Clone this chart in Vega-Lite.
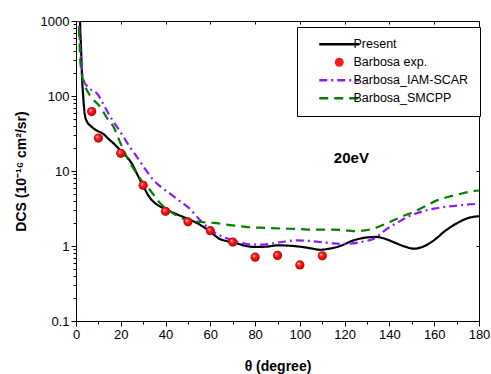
{
  "$schema": "https://vega.github.io/schema/vega-lite/v6.json",
  "width": 403,
  "height": 300,
  "autosize": "none",
  "padding": {"left": 76, "top": 21, "right": 12, "bottom": 53},
  "background": "white",
  "config": {
    "font": "Liberation Sans",
    "view": {"stroke": "black", "strokeWidth": 1},
    "axis": {"grid": false, "domainColor": "black", "tickColor": "black", "labelColor": "black", "titleColor": "black", "labelFont": "Liberation Sans", "titleFont": "Liberation Sans", "labelFontSize": 13, "titleFontSize": 14, "titleFontWeight": "bold"}
  },
  "resolve": {"axis": {"x": "independent", "y": "independent"}},
  "datasets": {
    "curves": [
      {"series": "Present", "theta": 1.6, "dcs": 2000},
      {"series": "Present", "theta": 1.8, "dcs": 1000},
      {"series": "Present", "theta": 2.3, "dcs": 400},
      {"series": "Present", "theta": 2.7, "dcs": 180},
      {"series": "Present", "theta": 3.2, "dcs": 100},
      {"series": "Present", "theta": 4, "dcs": 55},
      {"series": "Present", "theta": 5, "dcs": 45},
      {"series": "Present", "theta": 6.5, "dcs": 40},
      {"series": "Present", "theta": 9, "dcs": 35},
      {"series": "Present", "theta": 12, "dcs": 31.5},
      {"series": "Present", "theta": 15, "dcs": 26},
      {"series": "Present", "theta": 17, "dcs": 23},
      {"series": "Present", "theta": 20, "dcs": 18.5},
      {"series": "Present", "theta": 23, "dcs": 15},
      {"series": "Present", "theta": 25, "dcs": 12.5},
      {"series": "Present", "theta": 27, "dcs": 9.5},
      {"series": "Present", "theta": 30, "dcs": 6.3},
      {"series": "Present", "theta": 33, "dcs": 4.4},
      {"series": "Present", "theta": 36, "dcs": 3.6},
      {"series": "Present", "theta": 40, "dcs": 3.1},
      {"series": "Present", "theta": 45, "dcs": 2.65},
      {"series": "Present", "theta": 50, "dcs": 2.3},
      {"series": "Present", "theta": 55, "dcs": 1.95},
      {"series": "Present", "theta": 60, "dcs": 1.55},
      {"series": "Present", "theta": 64, "dcs": 1.25},
      {"series": "Present", "theta": 68, "dcs": 1.15},
      {"series": "Present", "theta": 72, "dcs": 1.08},
      {"series": "Present", "theta": 76, "dcs": 1.0},
      {"series": "Present", "theta": 80, "dcs": 0.97},
      {"series": "Present", "theta": 85, "dcs": 0.98},
      {"series": "Present", "theta": 90, "dcs": 1.02},
      {"series": "Present", "theta": 95, "dcs": 1.01},
      {"series": "Present", "theta": 100, "dcs": 0.98},
      {"series": "Present", "theta": 105, "dcs": 0.93},
      {"series": "Present", "theta": 109, "dcs": 0.89},
      {"series": "Present", "theta": 113, "dcs": 0.92},
      {"series": "Present", "theta": 118, "dcs": 1.0},
      {"series": "Present", "theta": 124, "dcs": 1.19},
      {"series": "Present", "theta": 130, "dcs": 1.3},
      {"series": "Present", "theta": 134, "dcs": 1.32},
      {"series": "Present", "theta": 138, "dcs": 1.25},
      {"series": "Present", "theta": 142, "dcs": 1.12},
      {"series": "Present", "theta": 147, "dcs": 0.98},
      {"series": "Present", "theta": 151, "dcs": 0.92},
      {"series": "Present", "theta": 155, "dcs": 0.98},
      {"series": "Present", "theta": 160, "dcs": 1.2},
      {"series": "Present", "theta": 165, "dcs": 1.6},
      {"series": "Present", "theta": 170, "dcs": 2.0},
      {"series": "Present", "theta": 175, "dcs": 2.35},
      {"series": "Present", "theta": 180, "dcs": 2.5},
      {"series": "Barbosa_IAM-SCAR", "theta": 0.9, "dcs": 1500},
      {"series": "Barbosa_IAM-SCAR", "theta": 1.2, "dcs": 1000},
      {"series": "Barbosa_IAM-SCAR", "theta": 2, "dcs": 400},
      {"series": "Barbosa_IAM-SCAR", "theta": 2.7, "dcs": 220},
      {"series": "Barbosa_IAM-SCAR", "theta": 3.4, "dcs": 162},
      {"series": "Barbosa_IAM-SCAR", "theta": 5, "dcs": 135},
      {"series": "Barbosa_IAM-SCAR", "theta": 7, "dcs": 120},
      {"series": "Barbosa_IAM-SCAR", "theta": 9.4, "dcs": 108},
      {"series": "Barbosa_IAM-SCAR", "theta": 12, "dcs": 80},
      {"series": "Barbosa_IAM-SCAR", "theta": 15.3, "dcs": 53},
      {"series": "Barbosa_IAM-SCAR", "theta": 18, "dcs": 40},
      {"series": "Barbosa_IAM-SCAR", "theta": 21.3, "dcs": 28.3},
      {"series": "Barbosa_IAM-SCAR", "theta": 24, "dcs": 21},
      {"series": "Barbosa_IAM-SCAR", "theta": 27.2, "dcs": 15.4},
      {"series": "Barbosa_IAM-SCAR", "theta": 31, "dcs": 10.5},
      {"series": "Barbosa_IAM-SCAR", "theta": 34.7, "dcs": 7.5},
      {"series": "Barbosa_IAM-SCAR", "theta": 38, "dcs": 6.1},
      {"series": "Barbosa_IAM-SCAR", "theta": 42, "dcs": 5},
      {"series": "Barbosa_IAM-SCAR", "theta": 46.7, "dcs": 3.9},
      {"series": "Barbosa_IAM-SCAR", "theta": 50, "dcs": 3.3},
      {"series": "Barbosa_IAM-SCAR", "theta": 55.5, "dcs": 2.2},
      {"series": "Barbosa_IAM-SCAR", "theta": 61.5, "dcs": 1.54},
      {"series": "Barbosa_IAM-SCAR", "theta": 65, "dcs": 1.35},
      {"series": "Barbosa_IAM-SCAR", "theta": 69, "dcs": 1.22},
      {"series": "Barbosa_IAM-SCAR", "theta": 73, "dcs": 1.12},
      {"series": "Barbosa_IAM-SCAR", "theta": 77.8, "dcs": 1.05},
      {"series": "Barbosa_IAM-SCAR", "theta": 82, "dcs": 1.04},
      {"series": "Barbosa_IAM-SCAR", "theta": 86.8, "dcs": 1.07},
      {"series": "Barbosa_IAM-SCAR", "theta": 92, "dcs": 1.13},
      {"series": "Barbosa_IAM-SCAR", "theta": 98.7, "dcs": 1.19},
      {"series": "Barbosa_IAM-SCAR", "theta": 104, "dcs": 1.17},
      {"series": "Barbosa_IAM-SCAR", "theta": 109, "dcs": 1.13},
      {"series": "Barbosa_IAM-SCAR", "theta": 114, "dcs": 1.09},
      {"series": "Barbosa_IAM-SCAR", "theta": 118, "dcs": 1.07},
      {"series": "Barbosa_IAM-SCAR", "theta": 123, "dcs": 1.08},
      {"series": "Barbosa_IAM-SCAR", "theta": 127, "dcs": 1.13},
      {"series": "Barbosa_IAM-SCAR", "theta": 133, "dcs": 1.25},
      {"series": "Barbosa_IAM-SCAR", "theta": 136, "dcs": 1.45},
      {"series": "Barbosa_IAM-SCAR", "theta": 139, "dcs": 1.7},
      {"series": "Barbosa_IAM-SCAR", "theta": 143, "dcs": 2.0},
      {"series": "Barbosa_IAM-SCAR", "theta": 148, "dcs": 2.44},
      {"series": "Barbosa_IAM-SCAR", "theta": 154, "dcs": 2.85},
      {"series": "Barbosa_IAM-SCAR", "theta": 160, "dcs": 3.15},
      {"series": "Barbosa_IAM-SCAR", "theta": 166, "dcs": 3.35},
      {"series": "Barbosa_IAM-SCAR", "theta": 172, "dcs": 3.5},
      {"series": "Barbosa_IAM-SCAR", "theta": 176, "dcs": 3.6},
      {"series": "Barbosa_IAM-SCAR", "theta": 180, "dcs": 3.65},
      {"series": "Barbosa_SMCPP", "theta": 0.6, "dcs": 2000},
      {"series": "Barbosa_SMCPP", "theta": 1.2, "dcs": 1000},
      {"series": "Barbosa_SMCPP", "theta": 1.9, "dcs": 300},
      {"series": "Barbosa_SMCPP", "theta": 3, "dcs": 170},
      {"series": "Barbosa_SMCPP", "theta": 4.9, "dcs": 119},
      {"series": "Barbosa_SMCPP", "theta": 7, "dcs": 95},
      {"series": "Barbosa_SMCPP", "theta": 10.9, "dcs": 71},
      {"series": "Barbosa_SMCPP", "theta": 14, "dcs": 50},
      {"series": "Barbosa_SMCPP", "theta": 16.8, "dcs": 38.6},
      {"series": "Barbosa_SMCPP", "theta": 19, "dcs": 27},
      {"series": "Barbosa_SMCPP", "theta": 21.3, "dcs": 18.9},
      {"series": "Barbosa_SMCPP", "theta": 24, "dcs": 13},
      {"series": "Barbosa_SMCPP", "theta": 27.2, "dcs": 9.2},
      {"series": "Barbosa_SMCPP", "theta": 30, "dcs": 7},
      {"series": "Barbosa_SMCPP", "theta": 33.2, "dcs": 5.5},
      {"series": "Barbosa_SMCPP", "theta": 37.7, "dcs": 3.68},
      {"series": "Barbosa_SMCPP", "theta": 42, "dcs": 2.9},
      {"series": "Barbosa_SMCPP", "theta": 46, "dcs": 2.45},
      {"series": "Barbosa_SMCPP", "theta": 49.6, "dcs": 2.2},
      {"series": "Barbosa_SMCPP", "theta": 55.5, "dcs": 2.09},
      {"series": "Barbosa_SMCPP", "theta": 61.5, "dcs": 2.03},
      {"series": "Barbosa_SMCPP", "theta": 70, "dcs": 1.88},
      {"series": "Barbosa_SMCPP", "theta": 76.4, "dcs": 1.79},
      {"series": "Barbosa_SMCPP", "theta": 85, "dcs": 1.74},
      {"series": "Barbosa_SMCPP", "theta": 91.2, "dcs": 1.71},
      {"series": "Barbosa_SMCPP", "theta": 100, "dcs": 1.68},
      {"series": "Barbosa_SMCPP", "theta": 106, "dcs": 1.65},
      {"series": "Barbosa_SMCPP", "theta": 115, "dcs": 1.65},
      {"series": "Barbosa_SMCPP", "theta": 120, "dcs": 1.62},
      {"series": "Barbosa_SMCPP", "theta": 124, "dcs": 1.58},
      {"series": "Barbosa_SMCPP", "theta": 129, "dcs": 1.62},
      {"series": "Barbosa_SMCPP", "theta": 133, "dcs": 1.71},
      {"series": "Barbosa_SMCPP", "theta": 137, "dcs": 1.9},
      {"series": "Barbosa_SMCPP", "theta": 141.8, "dcs": 2.2},
      {"series": "Barbosa_SMCPP", "theta": 146, "dcs": 2.5},
      {"series": "Barbosa_SMCPP", "theta": 150.8, "dcs": 2.84},
      {"series": "Barbosa_SMCPP", "theta": 156, "dcs": 3.4},
      {"series": "Barbosa_SMCPP", "theta": 161.2, "dcs": 4.06},
      {"series": "Barbosa_SMCPP", "theta": 166, "dcs": 4.5},
      {"series": "Barbosa_SMCPP", "theta": 171, "dcs": 4.9},
      {"series": "Barbosa_SMCPP", "theta": 176, "dcs": 5.3},
      {"series": "Barbosa_SMCPP", "theta": 180, "dcs": 5.5}
    ],
    "exp": [
      {"theta": 7, "dcs": 62},
      {"theta": 10, "dcs": 27.5},
      {"theta": 20, "dcs": 17.2},
      {"theta": 30, "dcs": 6.45},
      {"theta": 40, "dcs": 2.9},
      {"theta": 50, "dcs": 2.1},
      {"theta": 60, "dcs": 1.6},
      {"theta": 70, "dcs": 1.13},
      {"theta": 80, "dcs": 0.71},
      {"theta": 90, "dcs": 0.75},
      {"theta": 100, "dcs": 0.56},
      {"theta": 110, "dcs": 0.74}
    ],
    "note": [{"theta": 123, "dcs": 15, "text": "20eV"}]
  },
  "layer": [
    {
      "data": {"name": "curves"},
      "mark": {"type": "line", "clip": true, "interpolate": "monotone", "strokeWidth": 2.2},
      "encoding": {
        "x": {
          "field": "theta", "type": "quantitative",
          "scale": {"domain": [0, 180], "nice": false, "zero": false},
          "axis": {
            "title": "θ (degree)", "titlePadding": 18,
            "values": [0, 10, 20, 30, 40, 50, 60, 70, 80, 90, 100, 110, 120, 130, 140, 150, 160, 170, 180],
            "labelExpr": "datum.value % 20 === 0 ? datum.label : ''",
            "tickSize": {"condition": {"test": "datum.value % 20 !== 0", "value": 3}, "value": 5},
            "labelPadding": 2, "labelFlush": false, "labelOverlap": false
          }
        },
        "y": {
          "field": "dcs", "type": "quantitative",
          "scale": {"type": "log", "domain": [0.1, 1000], "nice": false},
          "axis": {
            "title": "DCS (10⁻¹⁶ cm²/sr)", "titlePadding": 12,
            "values": [0.1, 0.2, 0.3, 0.4, 0.5, 0.6, 0.7, 0.8, 0.9, 1, 2, 3, 4, 5, 6, 7, 8, 9, 10, 20, 30, 40, 50, 60, 70, 80, 90, 100, 200, 300, 400, 500, 600, 700, 800, 900, 1000],
            "format": "~g",
            "labelExpr": "indexof(['0.1','1','10','100','1000'], datum.label) >= 0 ? datum.label : ''",
            "tickSize": {"condition": {"test": "indexof([0.1, 1, 10, 100, 1000], datum.value) < 0", "value": 3}, "value": 5},
            "labelPadding": 2, "labelOverlap": false, "labelFlush": false
          }
        },
        "color": {
          "field": "series", "type": "nominal",
          "scale": {"domain": ["Present", "Barbosa exp.", "Barbosa_IAM-SCAR", "Barbosa_SMCPP"], "range": ["#000000", "#ff1a1a", "#8a1aff", "#008000"]},
          "legend": {
            "title": null, "orient": "none", "legendX": 221, "legendY": 6,
            "strokeColor": "black", "fillColor": "white", "padding": 11,
            "labelFontSize": 12.5, "labelFont": "Liberation Sans", "labelColor": "black",
            "symbolOffset": 25, "rowPadding": 5, "labelOffset": 8,
            "symbolType": "stroke", "symbolSize": 1600, "symbolStrokeWidth": 2.5,
            "encode": {
              "symbols": {
                "update": {
                  "shape": {"signal": "datum.value === 'Barbosa exp.' ? 'circle' : 'stroke'"},
                  "size": {"signal": "datum.value === 'Barbosa exp.' ? 80 : 1600"},
                  "fill": [{"test": "datum.value === 'Barbosa exp.'", "value": "#ff1a1a"}, {"value": "transparent"}],
                  "strokeWidth": {"signal": "datum.value === 'Barbosa exp.' ? 0 : 2.5"}
                }
              }
            }
          }
        },
        "strokeDash": {
          "field": "series", "type": "nominal",
          "scale": {"domain": ["Present", "Barbosa exp.", "Barbosa_IAM-SCAR", "Barbosa_SMCPP"], "range": [[1, 0], [1, 0], [8, 4, 2, 4], [9, 6]]},
          "legend": null
        }
      }
    },
    {
      "data": {"name": "exp"},
      "mark": {
        "type": "point", "filled": true, "size": 85, "opacity": 1, "strokeWidth": 0,
        "fill": {"gradient": "radial", "x1": 0.35, "y1": 0.35, "r1": 0, "x2": 0.5, "y2": 0.5, "r2": 0.55,
          "stops": [{"offset": 0, "color": "#ffd0d0"}, {"offset": 0.35, "color": "#ff2020"}, {"offset": 1, "color": "#b00000"}]}
      },
      "encoding": {
        "x": {"field": "theta", "type": "quantitative", "axis": null},
        "y": {"field": "dcs", "type": "quantitative", "axis": null}
      }
    },
    {
      "data": {"name": "note"},
      "mark": {"type": "text", "fontSize": 15, "fontWeight": "bold", "font": "Liberation Sans", "color": "black"},
      "encoding": {
        "x": {
          "field": "theta", "type": "quantitative",
          "axis": {"orient": "top", "title": null, "labels": false, "domain": false, "values": [0, 20, 40, 60, 80, 100, 120, 140, 160, 180], "tickSize": -3}
        },
        "y": {
          "field": "dcs", "type": "quantitative",
          "axis": {"orient": "right", "title": null, "labels": false, "domain": false, "values": [0.1, 1, 10, 100, 1000], "tickSize": -3}
        },
        "text": {"field": "text"}
      }
    }
  ]
}
